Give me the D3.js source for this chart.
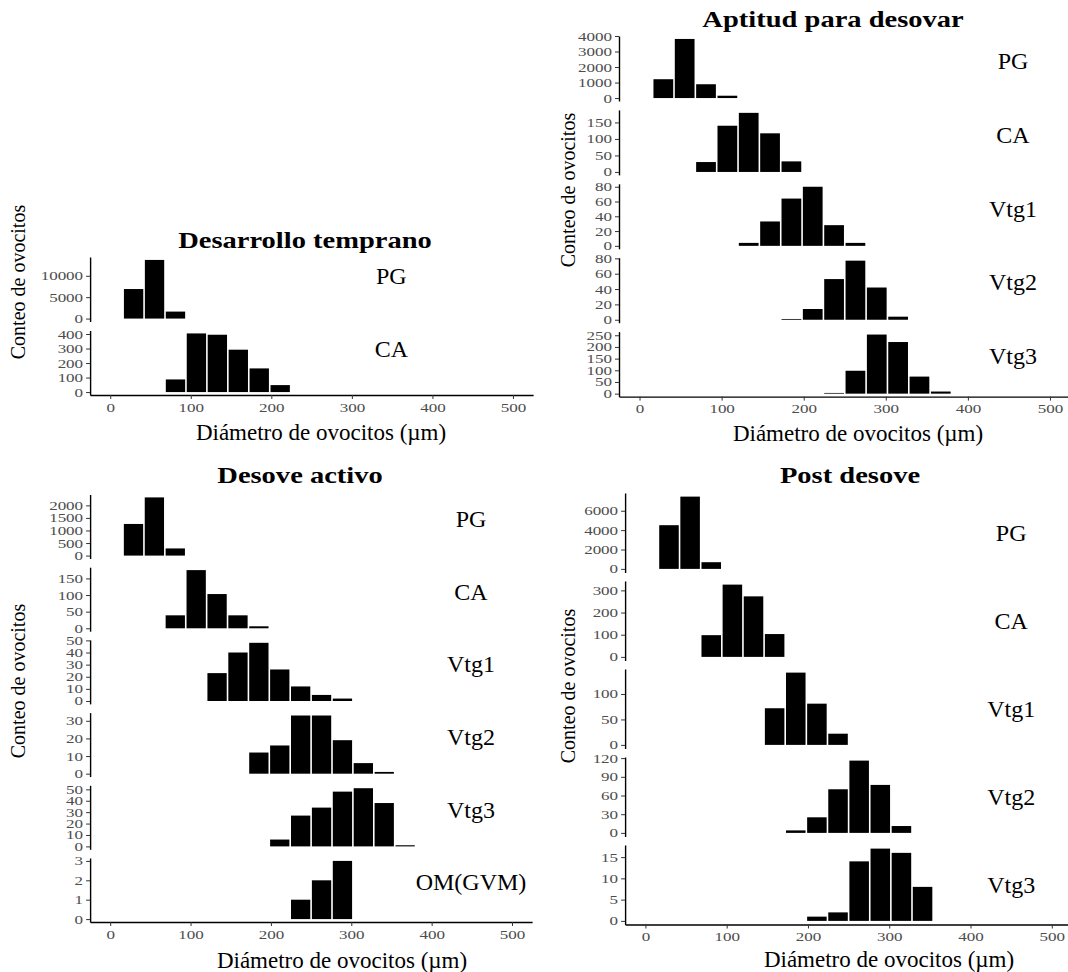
<!DOCTYPE html>
<html><head><meta charset="utf-8">
<script src="https://cdn.jsdelivr.net/npm/d3@7"></script>
<style>body{margin:0;background:#fff}</style>
</head><body>
<svg id="chart" width="1068" height="972"></svg>
<script>
// ---------- DATA ----------
const binMids = [29, 55, 81, 107, 133, 159, 185, 211, 237, 263, 289, 315, 341, 367]; // µm, bin centres
const binWidth = 26;
const xTicks = [0, 100, 200, 300, 400, 500];
const xDomain = [-25, 525];

const panelTitles = ["Desarrollo temprano", "Aptitud para desovar", "Desove activo", "Post desove"];
const yTitle = "Conteo de ovocitos";
const xTitle = "Diámetro de ovocitos (µm)";

// Desarrollo temprano
const dtStages = ["PG", "CA"];
const dtPG = [6900, 13700, 1630, 0, 0, 0, 0, 0, 0, 0, 0, 0, 0, 0];
const dtCA = [0, 0, 87, 404, 395, 292, 163, 48, 0, 0, 0, 0, 0, 0];
const dtTicks = [[0, 5000, 10000], [0, 100, 200, 300, 400]];

// Aptitud para desovar
const apStages = ["PG", "CA", "Vtg1", "Vtg2", "Vtg3"];
const apPG = [1214, 3810, 890, 150, 0, 0, 0, 0, 0, 0, 0, 0, 0, 0];
const apCA = [0, 0, 30, 140, 179, 117, 32, 0, 0, 0, 0, 0, 0, 0];
const apVtg1 = [0, 0, 0, 0, 4, 33, 64, 80, 28, 4, 0, 0, 0, 0];
const apVtg2 = [0, 0, 0, 0, 0, 0, 1, 14, 53, 77, 42, 4, 0, 0];
const apVtg3 = [0, 0, 0, 0, 0, 0, 0, 0, 3, 98, 253, 221, 73, 9];
const apTicks = [[0, 1000, 2000, 3000, 4000], [0, 50, 100, 150], [0, 20, 40, 60, 80], [0, 20, 40, 60, 80], [0, 50, 100, 150, 200, 250]];

// Desove activo
const daStages = ["PG", "CA", "Vtg1", "Vtg2", "Vtg3", "OM(GVM)"];
const daPG = [1260, 2317, 285, 0, 0, 0, 0, 0, 0, 0, 0, 0, 0, 0];
const daCA = [0, 0, 39, 175, 103, 39, 6, 0, 0, 0, 0, 0, 0, 0];
const daVtg1 = [0, 0, 0, 0, 23, 40, 48, 26, 12, 5, 2, 0, 0, 0];
const daVtg2 = [0, 0, 0, 0, 0, 0, 12, 16, 33, 33, 19, 6, 1, 0];
const daVtg3 = [0, 0, 0, 0, 0, 0, 0, 6, 27, 34, 48, 51, 38, 1];
const daOM = [0, 0, 0, 0, 0, 0, 0, 0, 1, 2, 3, 0, 0, 0];
const daTicks = [[0, 500, 1000, 1500, 2000], [0, 50, 100, 150], [0, 10, 20, 30, 40, 50], [0, 10, 20, 30], [0, 10, 20, 30, 40, 50], [0, 1, 2, 3]];

// Post desove
const pdStages = ["PG", "CA", "Vtg1", "Vtg2", "Vtg3"];
const pdPG = [4510, 7460, 690, 0, 0, 0, 0, 0, 0, 0, 0, 0, 0, 0];
const pdCA = [0, 0, 98, 326, 273, 103, 0, 0, 0, 0, 0, 0, 0, 0];
const pdVtg1 = [0, 0, 0, 0, 0, 72, 142, 81, 22, 0, 0, 0, 0, 0];
const pdVtg2 = [0, 0, 0, 0, 0, 0, 4, 25, 70, 116, 77, 11, 0, 0];
const pdVtg3 = [0, 0, 0, 0, 0, 0, 0, 1, 2, 14, 17, 16, 8, 0];
const pdTicks = [[0, 2000, 4000, 6000], [0, 100, 200, 300], [0, 50, 100], [0, 30, 60, 90, 120], [0, 5, 10, 15]];

// ---------- LAYOUT ----------
const panels = [
  {title: panelTitles[0], stages: dtStages, counts: [dtPG, dtCA], ticks: dtTicks,
   L: {x0: 90.1, x1: 533.1, top: 257, h: 64.5, gap: 9, titleX: 305, titleY: 240, labelX: 349, labelFrac: 0.29,
       yTitleX: 18, yTitleY: 282, xTitleX: 321, xTitleGap: 37}},
  {title: panelTitles[1], stages: apStages, counts: [apPG, apCA, apVtg1, apVtg2, apVtg3], ticks: apTicks,
   L: {x0: 619, x1: 1070.5, top: 36, h: 65, gap: 8.9, titleX: 833, titleY: 19, labelX: 455, labelFrac: 0.38,
       yTitleX: 568, yTitleY: 190, xTitleX: 858, xTitleGap: 37}},
  {title: panelTitles[2], stages: daStages, counts: [daPG, daCA, daVtg1, daVtg2, daVtg3, daOM], ticks: daTicks,
   L: {x0: 90.1, x1: 532.1, top: 494.5, h: 64, gap: 8.7, titleX: 300, titleY: 475, labelX: 449, labelFrac: 0.38,
       yTitleX: 18, yTitleY: 681, xTitleX: 342, xTitleGap: 38}},
  {title: panelTitles[3], stages: pdStages, counts: [pdPG, pdCA, pdVtg1, pdVtg2, pdVtg3], ticks: pdTicks,
   L: {x0: 625.1, x1: 1072.1, top: 493, h: 79.5, gap: 8.5, titleX: 850, titleY: 475, labelX: 450, labelFrac: 0.5,
       yTitleX: 568, yTitleY: 686, xTitleX: 889, xTitleGap: 35}}
];

const FONT = "'Liberation Serif', 'Times New Roman', serif";
const TICK_SIZE = 12.5;
const TICK_SX = 1.36;  // horizontal stretch of tick labels
const TITLE_SX = 1.24; // horizontal stretch of panel titles
const BAR_INSET = 0.8; // white separation between adjacent bars

const svg = d3.select("#chart");
svg.append("rect").attr("width", 1068).attr("height", 972).attr("fill", "#fff");

function styleTickText(sel) {
  sel.selectAll(".tick text")
    .attr("font-family", FONT).attr("font-size", TICK_SIZE).attr("fill", "#4d4d4d")
    .attr("transform", `scale(${TICK_SX},1)`)
    .attr("x", function () { const v = +d3.select(this).attr("x") || 0; return v / TICK_SX; });
  sel.selectAll(".tick line").attr("stroke", "#333").attr("stroke-width", 1);
  sel.select(".domain").attr("stroke", "#000").attr("stroke-width", 1.4);
}

panels.forEach(p => {
  const L = p.L;
  const g = svg.append("g");
  const x = d3.scaleLinear().domain(xDomain).range([L.x0, L.x1]);
  let lastBottom = 0;

  p.stages.forEach((name, i) => {
    const counts = p.counts[i];
    const M = d3.max(counts);
    const top = L.top + i * (L.h + L.gap);
    const bottom = top + L.h;
    lastBottom = bottom;
    const y = d3.scaleLinear().domain([-0.05 * M, 1.05 * M]).range([bottom, top]);

    const bars = binMids.map((m, j) => ({m, c: counts[j]})).filter(d => d.c > 0);
    g.append("g").selectAll("rect").data(bars).join("rect")
      .attr("x", d => x(d.m - binWidth / 2) + BAR_INSET)
      .attr("width", d => x(d.m + binWidth / 2) - x(d.m - binWidth / 2) - 2 * BAR_INSET)
      .attr("y", d => y(d.c))
      .attr("height", d => y(0) - y(d.c))
      .attr("fill", "#000");

    const ga = g.append("g").attr("transform", `translate(${L.x0},0)`)
      .call(d3.axisLeft(y).tickValues(p.ticks[i]).tickSize(4).tickSizeOuter(0).tickPadding(3).tickFormat(d3.format("d")));
    styleTickText(ga);

    g.append("text")
      .attr("x", x(L.labelX)).attr("y", top + L.labelFrac * L.h)
      .attr("text-anchor", "middle").attr("dominant-baseline", "central")
      .attr("font-family", FONT).attr("font-size", 24).attr("fill", "#000")
      .text(name);
  });

  const gx = g.append("g").attr("transform", `translate(0,${lastBottom})`)
    .call(d3.axisBottom(x).tickValues(xTicks).tickSize(4).tickSizeOuter(0).tickPadding(4).tickFormat(d3.format("d")));
  styleTickText(gx);

  g.append("text")
    .attr("transform", `translate(${L.titleX},${L.titleY}) scale(${TITLE_SX},1)`)
    .attr("text-anchor", "middle").attr("dominant-baseline", "central")
    .attr("font-family", FONT).attr("font-weight", "bold").attr("font-size", 23).attr("fill", "#000")
    .text(p.title);

  g.append("text")
    .attr("x", L.xTitleX).attr("y", lastBottom + L.xTitleGap)
    .attr("text-anchor", "middle").attr("dominant-baseline", "central")
    .attr("font-family", FONT).attr("font-size", 23).attr("fill", "#000")
    .text(xTitle);

  g.append("text")
    .attr("transform", `translate(${L.yTitleX},${L.yTitleY}) rotate(-90)`)
    .attr("text-anchor", "middle").attr("dominant-baseline", "central")
    .attr("font-family", FONT).attr("font-size", 20).attr("fill", "#000")
    .text(yTitle);
});
</script>
</body></html>
